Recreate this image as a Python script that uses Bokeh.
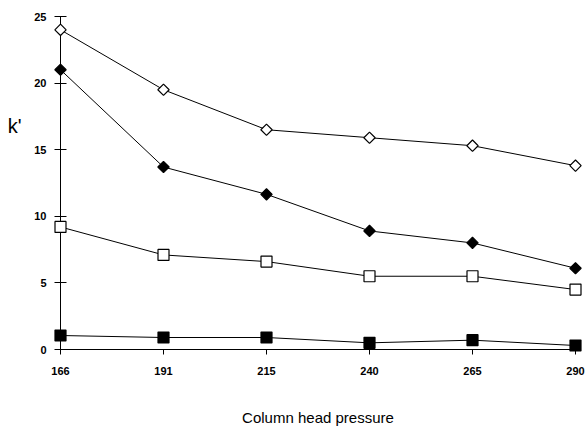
import math
from bokeh.plotting import figure
from bokeh.models import Range1d, FixedTicker, LinearAxis, ColumnDataSource
from bokeh.embed import file_html
from bokeh.resources import INLINE

pressures = ["166", "191", "215", "240", "265", "290"]
open_diamond = [24.0, 19.5, 16.5, 15.9, 15.3, 13.8]
filled_diamond = [21.0, 13.7, 11.65, 8.9, 8.0, 6.1]
open_square = [9.2, 7.1, 6.6, 5.5, 5.5, 4.5]
filled_square = [1.05, 0.9, 0.9, 0.5, 0.7, 0.3]
y_ticks = [0, 5, 10, 15, 20, 25]
y_title = "k'"
y_title_pos = 16.8

xs = list(range(len(pressures)))

p = figure(width=586, height=429, output_backend="svg", toolbar_location=None,
           x_range=Range1d(0, len(pressures) - 1), y_range=Range1d(0, 25),
           min_border_left=60, min_border_right=11, min_border_top=16, min_border_bottom=80)
p.outline_line_color = None
p.xgrid.visible = False
p.ygrid.visible = False

series = [
    (open_diamond, "square", "white", 8, math.pi / 4),
    (filled_diamond, "square", "black", 8, math.pi / 4),
    (open_square, "square", "white", 11, 0),
    (filled_square, "square", "black", 11, 0),
]
for vals, marker, fill, size, ang in series:
    src = ColumnDataSource(dict(x=xs, y=vals))
    p.line("x", "y", source=src, line_color="black", line_width=1, level="overlay")
    p.scatter("x", "y", source=src, marker=marker, size=size, angle=ang, fill_color=fill,
              line_color="black", line_width=1.2, level="overlay")

font = "Liberation Sans"
p.xaxis.ticker = FixedTicker(ticks=xs)
p.xaxis.major_label_overrides = {i: s for i, s in enumerate(pressures)}
p.yaxis.ticker = FixedTicker(ticks=y_ticks)
for ax in (p.xaxis, p.yaxis):
    ax.axis_line_color = "black"
    ax.major_tick_line_color = "black"
    ax.minor_tick_line_color = None
    ax.major_label_text_font = font
    ax.major_label_text_font_style = "bold"
    ax.major_label_text_font_size = "11px"
    ax.major_label_text_color = "black"
p.xaxis.major_tick_in = 0
p.xaxis.major_tick_out = 5
p.xaxis.major_label_standoff = 12
p.yaxis.major_tick_in = 6
p.yaxis.major_tick_out = 6
p.yaxis.major_label_standoff = 8

p.xaxis.axis_label = "Column head pressure"
p.xaxis.axis_label_text_font = font
p.xaxis.axis_label_text_font_style = "normal"
p.xaxis.axis_label_text_font_size = "15px"
p.xaxis.axis_label_text_color = "black"
p.xaxis.axis_label_standoff = 31

# y title placed as a lone label on an extra, line-less left axis
title_axis = LinearAxis(ticker=FixedTicker(ticks=[y_title_pos]),
                        major_label_overrides={y_title_pos: y_title})
title_axis.axis_line_color = None
title_axis.major_tick_line_color = None
title_axis.minor_tick_line_color = None
title_axis.major_label_standoff = 4
title_axis.major_label_text_font = font
title_axis.major_label_text_font_size = "20px"
title_axis.major_label_text_color = "black"
p.add_layout(title_axis, "left")

open("out.html", "w").write(file_html(p, INLINE))
